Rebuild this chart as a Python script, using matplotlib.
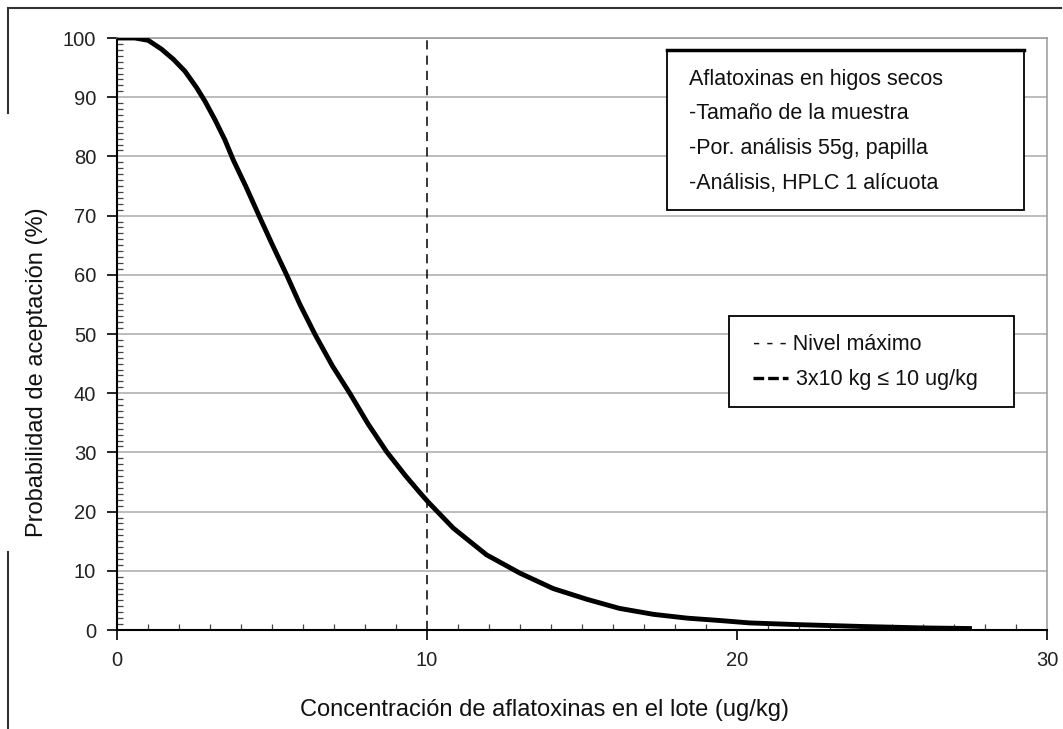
import matplotlib.pyplot as plt
from matplotlib.lines import Line2D
from matplotlib.patches import Rectangle
from matplotlib.ticker import MultipleLocator

plt.rcParams['font.family'] = ['Liberation Sans', 'DejaVu Sans']

conc = [0, 0.58, 1.01, 1.44, 1.82, 2.19, 2.57, 2.84, 3.16, 3.48, 3.75, 4.15, 4.58,
        5.0, 5.47, 5.9, 6.39, 6.95, 7.52, 8.1, 8.7, 9.3, 9.77, 10.04, 10.85, 11.92,
        13.0, 14.07, 15.15, 16.2, 17.3, 18.4, 19.45, 20.4, 22.0, 24.0, 26.0, 27.5]
prob = [100, 100, 99.6, 98.1, 96.4, 94.4, 91.6, 89.3, 86.2, 82.8, 79.4, 75.0, 70.0,
        65.2, 60.0, 55.0, 49.9, 44.6, 39.9, 34.8, 30.1, 26.1, 23.2, 21.6, 17.2, 12.7,
        9.6, 7.0, 5.2, 3.66, 2.65, 2.0, 1.6, 1.2, 0.9, 0.6, 0.35, 0.25]
max_level = 10

info_lines = ["Aflatoxinas en higos secos", "-Tamaño de la muestra",
              "-Por. análisis 55g, papilla", "-Análisis, HPLC 1 alícuota"]

W, H = 1063, 729
fig = plt.figure(figsize=(W / 100, H / 100), dpi=100)

def fx(x):
    return x / W

def fy(y):
    return 1 - y / H

ax = fig.add_axes([fx(117), fy(630), fx(1047) - fx(117), fy(38) - fy(630)])

ax.plot(conc, prob, color='black', lw=3.5, solid_joinstyle='round', zorder=4)
ax.axvline(max_level, color='black', lw=1.1, dashes=(6, 4), zorder=3)

ax.set_xlim(0, 30)
ax.set_ylim(0, 100)
ax.xaxis.set_major_locator(MultipleLocator(10))
ax.xaxis.set_minor_locator(MultipleLocator(1))
ax.yaxis.set_major_locator(MultipleLocator(10))
ax.yaxis.set_minor_locator(MultipleLocator(1))
ax.tick_params(which='major', direction='out', length=7, width=1.2,
               labelsize=14.5, labelcolor='#222222', pad=8)
ax.tick_params(which='minor', direction='in', length=4, width=0.9, color='#444444')
ax.grid(True, axis='y', which='major', color='#aaaaaa', lw=1.1)

for s in ['top', 'right']:
    ax.spines[s].set_color('#999999')
    ax.spines[s].set_linewidth(1.1)
for s in ['left', 'bottom']:
    ax.spines[s].set_linewidth(1.5)

ax.set_ylabel("Probabilidad de aceptación (%)", fontsize=17, color='#111111')
ax.yaxis.label.set_verticalalignment('center')
ax.yaxis.set_label_coords((37 - 117) / 930, (630 - 372) / 592)
ax.set_xlabel("Concentración de aflatoxinas en el lote (ug/kg)", fontsize=17,
              color='#111111')
ax.xaxis.label.set_verticalalignment('center')
ax.xaxis.set_label_coords((545 - 117) / 930, (630 - 710) / 592)

# info box
fig.patches.append(Rectangle((fx(667), fy(210)), fx(1024) - fx(667), fy(50) - fy(210),
                             transform=fig.transFigure, facecolor='white',
                             edgecolor='black', lw=1.3, zorder=5))
fig.lines.append(Line2D([fx(667), fx(1024)], [fy(50), fy(50)], transform=fig.transFigure,
                        color='black', lw=2.5, zorder=6))
for i, t in enumerate(info_lines):
    fig.text(fx(689), fy(79 + i * 34.7), t, fontsize=15.5, va='center', ha='left',
             color='#111111', zorder=7)

# legend box
fig.patches.append(Rectangle((fx(729), fy(407)), fx(1014) - fx(729), fy(316) - fy(407),
                             transform=fig.transFigure, facecolor='white',
                             edgecolor='black', lw=1.3, zorder=5))
fig.text(fx(753), fy(345), "- - - Nivel máximo", fontsize=15.5, va='center', ha='left',
         color='#111111', zorder=7)
fig.lines.append(Line2D([fx(753), fx(788)], [fy(378), fy(378)], transform=fig.transFigure,
                        color='black', lw=2.4, dashes=(3.2, 1.2), zorder=6))
fig.text(fx(796), fy(380), "3x10 kg ≤ 10 ug/kg", fontsize=15.5, va='center', ha='left',
         color='#111111', zorder=7)

# page frame lines from the scanned document
fig.lines.append(Line2D([fx(8), fx(1061)], [fy(8), fy(8)], transform=fig.transFigure,
                        color='#333333', lw=1.5))
fig.lines.append(Line2D([fx(8), fx(8)], [fy(8), fy(113)], transform=fig.transFigure,
                        color='#333333', lw=1.5))
fig.lines.append(Line2D([fx(8), fx(8)], [fy(552), fy(729)], transform=fig.transFigure,
                        color='#333333', lw=1.5))

fig.savefig("out.png", dpi=100)
